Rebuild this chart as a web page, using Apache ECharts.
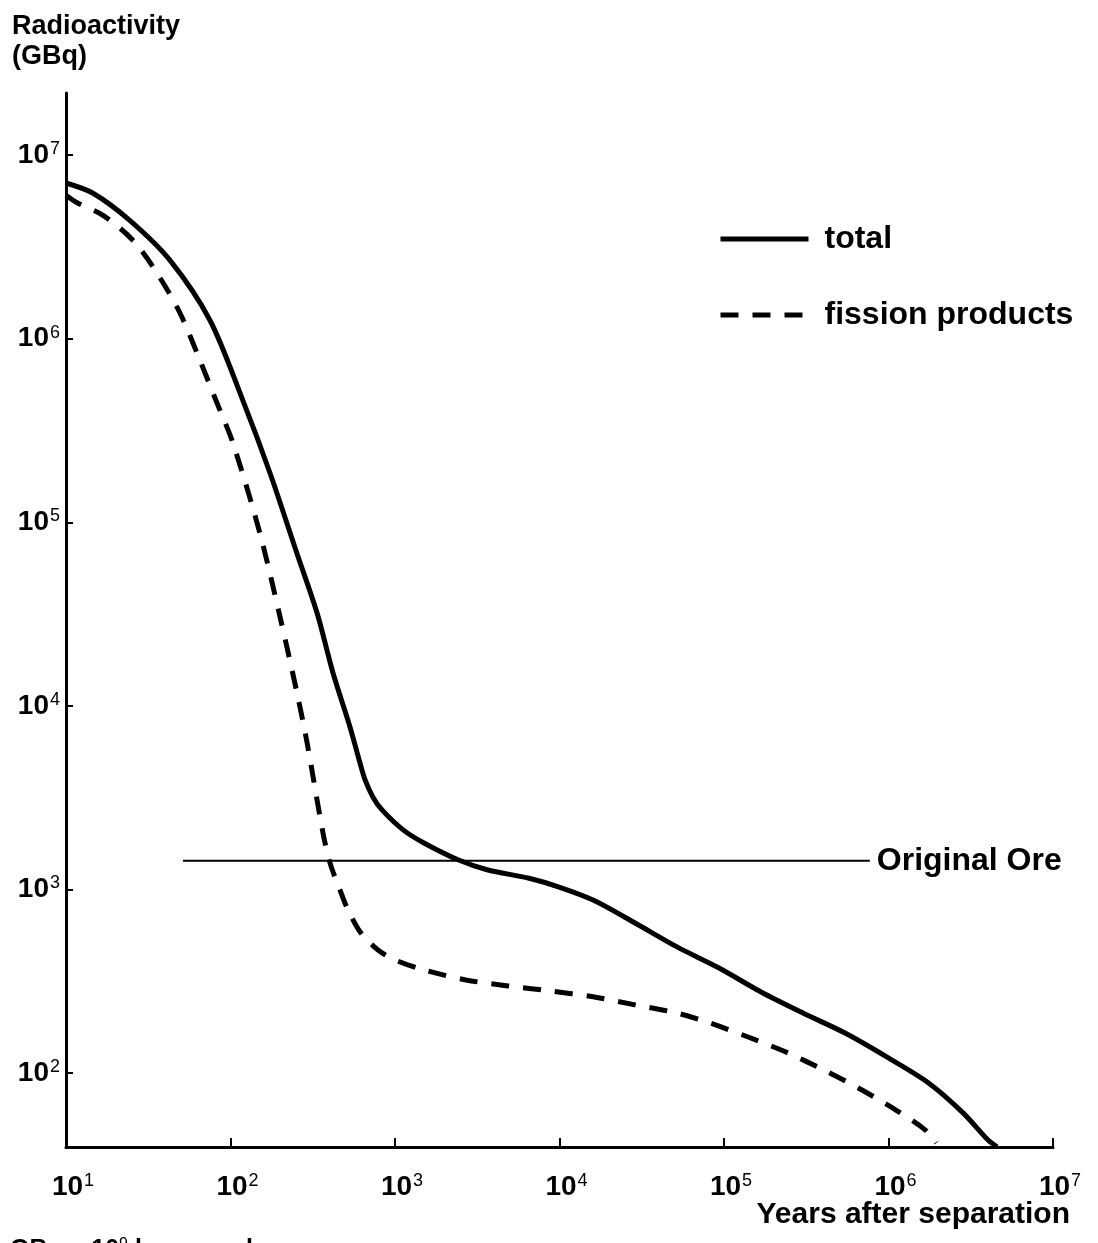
<!DOCTYPE html>
<html>
<head>
<meta charset="utf-8">
<script src="https://cdn.jsdelivr.net/npm/echarts@6/dist/echarts.min.js"></script>
<style>
html,body{margin:0;padding:0;background:#fff;}
#chart{width:1098px;height:1243px;}
</style>
</head>
<body>
<div id="chart"></div>
<script>
// Years after separation / radioactivity (GBq)
const totalYears = [10, 14.6, 24.5, 42.8, 75, 119, 174, 253, 336, 420, 532, 612, 658, 735, 834, 1120, 1500, 2415, 3625, 6530, 9940, 16000, 28800, 51800, 93300, 1.68e5, 3.02e5, 5.44e5, 9.8e5, 1.76e6, 2.84e6, 4.03e6, 4.57e6];
const totalActivity = [7.05e6, 6.2e6, 4.4e6, 2.68e6, 1.26e6, 4.6e5, 1.85e5, 6.8e4, 3.2e4, 1.51e4, 7.7e3, 4.9e3, 3.95e3, 3.18e3, 2.71e3, 2.11e3, 1.79e3, 1.45e3, 1.28e3, 1.15e3, 1.03e3, 875, 656, 486, 373, 276, 212, 165, 122, 88, 60.6, 43.1, 39.6];

const fissionYears = [10, 11.7, 16.8, 25.5, 35.7, 49.3, 65.3, 82.8, 103.5, 151, 200, 254, 292, 365, 403, 463, 518, 621, 788, 1000, 1500, 2700, 4870, 8750, 16000, 28800, 51800, 82200, 1.4e5, 2.38e5, 4.29e5, 6.9e5, 1.11e6, 1.67e6, 1.95e6];
const fissionActivity = [6.05e6, 5.5e6, 4.7e6, 3.44e6, 2.28e6, 1.38e6, 7.6e5, 4.46e5, 2.7e5, 8.7e4, 3.05e4, 1.17e4, 6.3e3, 2.03e3, 1.39e3, 993, 773, 579, 468, 413, 364, 321, 298, 280, 260, 235, 212, 187, 157, 130, 101, 80.7, 62.8, 49, 41.5];

const oreYears = [51.4, 7.7e5];
const oreActivity = [1430, 1430];

const xTicks = [10, 100, 1000, 1e4, 1e5, 1e6, 1e7];
const yTicks = [100, 1000, 1e4, 1e5, 1e6, 1e7];

const seriesNames = ['total', 'fission products'];
const oreLabel = 'Original Ore';
const yTitle = 'Radioactivity\n(GBq)';
const xTitle = 'Years after separation';
const footNote = 'GBq = 10{s|9} becquerels';

const zip = (a, b) => a.map((v, i) => [v, b[i]]);
const FONT = 'Liberation Sans, Arial, sans-serif';
const powLabel = v => '{b|10}{s|' + Math.round(Math.log10(v)) + '}';
const richPow = {
  b: {fontSize: 28, fontWeight: 'bold', fontFamily: FONT, color: '#000'},
  s: {fontSize: 18, fontFamily: FONT, color: '#000', verticalAlign: 'top', padding: [0, 0, 12, 1]}
};

const chart = echarts.init(document.getElementById('chart'));
chart.setOption({
  animation: false,
  backgroundColor: '#fff',
  grid: {left: 66, right: 45, top: 93, bottom: 96, containLabel: false},
  legend: {
    data: seriesNames,
    orient: 'vertical',
    left: 713,
    top: 218,
    itemWidth: 88,
    itemHeight: 30,
    itemGap: 44,
    itemStyle: {opacity: 0},
    lineStyle: {width: 5, color: '#000'},
    textStyle: {fontSize: 32, fontWeight: 'bold', fontFamily: FONT, color: '#000', padding: [0, 0, 0, 11]},
    selectedMode: false
  },
  xAxis: {
    type: 'log',
    logBase: 10,
    min: 10,
    max: 1e7,
    splitLine: {show: false},
    minorTick: {show: false},
    axisLine: {lineStyle: {color: '#000', width: 3}},
    axisTick: {inside: true, length: 9, lineStyle: {color: '#000', width: 2}, customValues: xTicks},
    axisLabel: {margin: 25, padding: [0, 0, 0, 14], formatter: powLabel, rich: richPow, customValues: xTicks}
  },
  yAxis: {
    type: 'log',
    logBase: 10,
    min: 39.5,
    max: 2.18e7,
    splitLine: {show: false},
    minorTick: {show: false},
    axisLine: {show: true, lineStyle: {color: '#000', width: 3}},
    axisTick: {show: true, inside: true, length: 7, lineStyle: {color: '#000', width: 2}, customValues: yTicks},
    axisLabel: {margin: 6, formatter: powLabel, rich: richPow, customValues: yTicks}
  },
  series: [
    {
      name: seriesNames[0],
      type: 'line',
      data: zip(totalYears, totalActivity),
      symbol: 'none',
      smooth: 0.3,
      lineStyle: {color: '#000', width: 5},
      itemStyle: {color: '#000'},
      z: 3
    },
    {
      name: seriesNames[1],
      type: 'line',
      data: zip(fissionYears, fissionActivity),
      symbol: 'none',
      smooth: 0.3,
      lineStyle: {color: '#000', width: 5, type: [18, 14]},
      itemStyle: {color: '#000'},
      z: 3
    },
    {
      name: oreLabel,
      type: 'line',
      data: zip(oreYears, oreActivity),
      symbol: 'none',
      lineStyle: {color: '#000', width: 2},
      endLabel: {show: true, formatter: oreLabel, distance: 7, fontSize: 32, fontWeight: 'bold', fontFamily: FONT, color: '#000'},
      z: 2
    }
  ],
  graphic: [
    {type: 'text', left: 12, top: 12, style: {text: yTitle, font: 'bold 27px ' + FONT, fill: '#000', lineHeight: 30}},
    {type: 'text', right: 28, top: 1200, style: {text: xTitle, font: 'bold 30px ' + FONT, fill: '#000'}},
    {type: 'text', left: 10, top: 1237, style: {text: footNote, font: 'bold 25px ' + FONT, fill: '#000',
      rich: {s: {fontSize: 16, fontFamily: FONT, verticalAlign: 'top', padding: [0, 0, 10, 0]}}}}
  ]
});
</script>
</body>
</html>
